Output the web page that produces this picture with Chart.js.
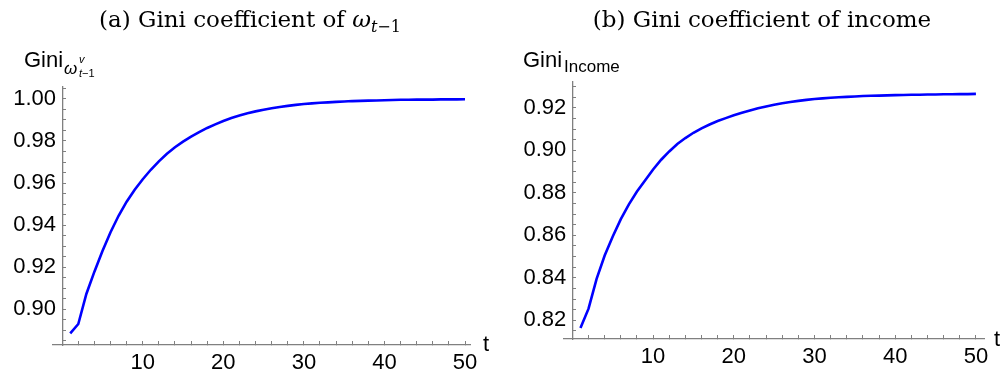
<!DOCTYPE html>
<html>
<head>
<meta charset="utf-8">
<script src="https://cdn.jsdelivr.net/npm/chart.js@4.4.0/dist/chart.umd.min.js"></script>
<style>
body{margin:0;width:1005px;height:375px;background:#fff;position:relative;overflow:hidden}
canvas{position:absolute;left:0;top:0}
.ttl{position:absolute;font-family:"DejaVu Serif";font-size:23px;line-height:1;white-space:nowrap;transform:translateX(-50%);color:#000}
.lab{position:absolute;font-family:"Liberation Sans";line-height:1;white-space:nowrap;color:#000}
</style>
</head>
<body>
<canvas id="chartA" width="1005" height="375"></canvas>
<canvas id="chartB" width="1005" height="375"></canvas>

<div class="ttl" style="left:250px;top:8px">(a) Gini coefficient of <i>ω</i><span style="font-size:16px;position:relative;top:5px"><i>t</i>−1</span></div>
<div class="ttl" style="left:762px;top:8px">(b) Gini coefficient of income</div>

<div class="lab" style="left:24px;top:49px;font-size:22px">Gini</div>
<div class="lab" style="left:64px;top:60px;font-size:17px;font-style:italic">ω</div>
<div class="lab" style="left:79px;top:54px;font-size:11px;font-style:italic">v</div>
<div class="lab" style="left:79px;top:68px;font-size:11px"><i>t</i>−1</div>
<div class="lab" style="left:483px;top:333px;font-size:22px">t</div>

<div class="lab" style="left:523px;top:49px;font-size:22px">Gini</div>
<div class="lab" style="left:564px;top:57.5px;font-size:17px">Income</div>
<div class="lab" style="left:994px;top:328px;font-size:22px">t</div>

<script>
'use strict';

// periods
const periods = [1,2,3,4,5,6,7,8,9,10,11,12,13,14,15,16,17,18,19,20,
                 21,22,23,24,25,26,27,28,29,30,31,32,33,34,35,36,37,38,39,40,
                 41,42,43,44,45,46,47,48,49,50];

// (a) Gini coefficient of omega_{t-1}
const giniOmega = [0.8884,0.8929,0.9072,0.9178,0.9276,0.9366,0.9444,0.9511,0.9568,0.9618,
                   0.9663,0.9703,0.9739,0.9770,0.9797,0.9821,0.9842,0.9862,0.9879,0.9895,
                   0.9909,0.9921,0.9932,0.9941,0.9949,0.9956,0.9962,0.9967,0.9972,0.9976,
                   0.9979,0.9982,0.9984,0.9986,0.9988,0.9990,0.9991,0.9992,0.9993,0.9994,
                   0.9995,0.9996,0.9996,0.9997,0.9997,0.9997,0.9998,0.9998,0.9998,0.9999];

// (b) Gini coefficient of income
const giniIncome = [0.8164,0.8255,0.8395,0.8505,0.8595,0.8676,0.8746,0.8806,0.8858,0.8910,
                    0.8956,0.8995,0.9030,0.9058,0.9083,0.9104,0.9122,0.9138,0.9152,0.9165,
                    0.9177,0.9188,0.9198,0.9207,0.9215,0.9222,0.9228,0.9233,0.9238,0.9242,
                    0.9245,0.9248,0.9250,0.9252,0.9254,0.9256,0.9257,0.9258,0.9259,0.9260,
                    0.9261,0.9262,0.9262,0.9263,0.9263,0.9264,0.9264,0.9265,0.9265,0.9266];

// labelled ticks (minor ticks every 2 on t, every 0.005 on gini)
const xMajor = [10,20,30,40,50];
const yMajorA = [0.90,0.92,0.94,0.96,0.98,1.00];
const yMajorB = [0.82,0.84,0.86,0.88,0.90,0.92];

const axisGray = '#808080';
const tickFont = { family: 'Liberation Sans', size: 22 };

function isMajor(list, v){
    return list.some(m => Math.abs(m - v) < 1e-6);
}

function make_chart(id, values, yMajor, box){
    return new Chart(document.getElementById(id), {
        type: 'line',
        data: {
            datasets: [{
                data: periods.map((t, i) => ({ x: t, y: values[i] })),
                borderColor: '#0000ff',
                borderWidth: 2.6,
                pointRadius: 0,
                tension: 0,
                fill: false,
            }],
        },
        options: {
            responsive: false,
            animation: false,
            events: [],
            layout: { padding: { left: box.left, right: 1005 - box.right, top: box.top, bottom: 0 } },
            plugins: { legend: { display: false }, title: { display: false }, tooltip: { enabled: false } },
            scales: {
                x: {
                    type: 'linear', min: box.xmin, max: box.xmax,
                    afterFit: s => { s.height = 375 - box.bottom; },
                    border: { color: axisGray, width: 1.3 },
                    grid: { drawOnChartArea: false, tickLength: -4, tickColor: axisGray, tickWidth: 1 },
                    ticks: {
                        stepSize: 2, includeBounds: false, autoSkip: false, maxRotation: 0,
                        padding: 9, color: '#000', font: tickFont,
                        callback: v => isMajor(xMajor, v) ? String(v) : '',
                    },
                },
                y: {
                    // vertical axis crosses the t axis at t = 0, as in the original
                    type: 'linear', position: { x: 0 }, min: box.ymin, max: box.ymax,
                    border: { color: axisGray, width: 1.3 },
                    grid: { drawOnChartArea: false, tickLength: -4, tickColor: axisGray, tickWidth: 1 },
                    ticks: {
                        stepSize: 0.005, includeBounds: false, autoSkip: false,
                        color: '#000', font: tickFont,
                        callback: v => isMajor(yMajor, v) ? v.toFixed(2) + ' ' : '',
                    },
                },
            },
        },
    });
}

make_chart('chartA', giniOmega, yMajorA,
    { left: 53, right: 470, top: 87, bottom: 345, xmin: -1.14, xmax: 50.62, ymin: 0.8829, ymax: 1.0057 });
make_chart('chartB', giniIncome, yMajorB,
    { left: 564, right: 984, top: 82, bottom: 339, xmin: -1.04, xmax: 51, ymin: 0.8112, ymax: 0.9322 });
</script>
</body>
</html>
